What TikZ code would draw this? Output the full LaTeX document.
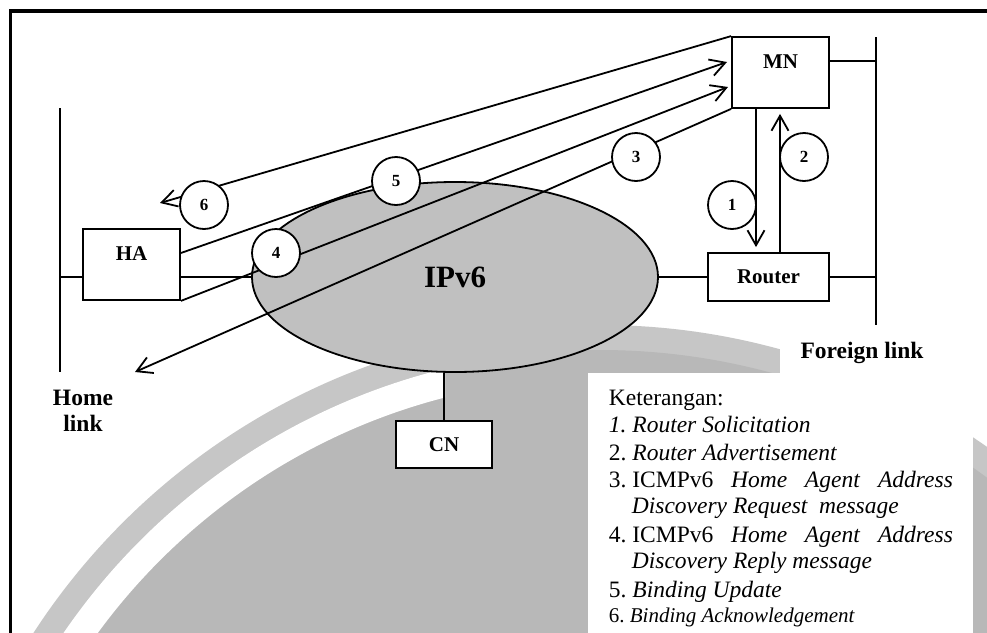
\documentclass[tikz,border=0pt]{standalone}
\usepackage{fontspec}
\setmainfont{Liberation Serif}
\usetikzlibrary{arrows.meta,shapes.geometric}
\definecolor{bandgray}{RGB}{198,198,198}
\definecolor{discgray}{RGB}{184,184,184}
\definecolor{ellgray}{RGB}{192,192,192}
\begin{document}
\frenchspacing
\begin{tikzpicture}[x=1pt,y=-1pt,line width=1.8pt,
  box/.style={draw,fill=white,line width=1.8pt,inner sep=0pt},
  num/.style={circle,draw,fill=white,minimum size=48pt,inner sep=0pt,line width=1.8pt,font=\fontsize{17}{17}\selectfont\bfseries},
  lbl/.style={inner sep=0pt,font=\fontsize{21}{21}\selectfont\bfseries},
  linklbl/.style={inner sep=0pt,align=center,font=\fontsize{23.5}{26}\selectfont\bfseries},
  msg/.style={-{Straight Barb[length=15pt,width=17pt,line width=1.8pt]}},
  leg/.style={anchor=base west,inner sep=0pt,font=\fontsize{23.5}{27}\selectfont}]
\useasboundingbox (0,0) rectangle (987,632);
% background and watermark disc
\fill[white] (0,0) rectangle (987,632);
\begin{scope}
  \clip (0,0) rectangle (987,632);
  \fill[bandgray] (600,1000) circle (675pt);
  \fill[discgray] (600,1000) circle (650pt);
  \begin{scope}
    \clip (0,0) rectangle (445,632);
    \fill[white,even odd rule] (600,1000) circle (650pt) (600,1000) circle (622pt);
  \end{scope}
\end{scope}
% white label panels
\fill[white] (11,372) rectangle (157,445);
\fill[white] (780,325) rectangle (949,373);
\fill[white] (588,373) rectangle (973,640);
% link lines
\coordinate (hlT) at (60,108);
\coordinate (hlB) at (60,372);
\coordinate (hlM) at (60,277);
\coordinate (flT) at (876,37);
\coordinate (flB) at (876,325);
\draw (hlT) -- (hlB);
\draw (flT) -- (flB);
% network cloud
\node[draw,ellipse,fill=ellgray,minimum width=406pt,minimum height=190pt,inner sep=0pt,line width=1.8pt,
      font=\fontsize{31}{31}\selectfont\bfseries] (net) at (455,277) {IPv6};
% boxes
\node[box,minimum width=97pt,minimum height=71pt] (MN) at (780.5,72.5) {};
\node[lbl] (MNt) at ([yshift=10.5pt]MN.center) {MN};
\node[box,minimum width=97pt,minimum height=71pt] (HA) at (131.5,264.5) {};
\node[lbl] (HAt) at ([yshift=10.5pt]HA.center) {HA};
\node[box,minimum width=121pt,minimum height=48pt,font=\fontsize{21}{21}\selectfont\bfseries] (Router) at (768.5,277) {Router};
\node[box,minimum width=96pt,minimum height=47pt,font=\fontsize{21}{21}\selectfont\bfseries] (CN) at (444,444.5) {CN};
% wiring
\draw (hlM) -- (hlM -| HA.west);
\draw (HA.east |- hlM) -- (net.west);
\draw (net.east) -- (Router.west);
\draw (Router.east) -- (Router.east -| flT);
\draw ([yshift=11.5pt]MN.east) -- ([yshift=11.5pt]MN.east -| flT);
\draw (CN.north) -- (CN.north |- net.south);
% message arrows
\coordinate (tip6) at (160,203);
\coordinate (tip5) at (727,62);
\coordinate (tip4) at (728,87);
\coordinate (tip3) at (135,372);
\draw[msg] (MN.north west) -- (tip6);
\draw[msg] ([yshift=11.5pt]HA.east) -- (tip5);
\draw[msg] (HA.south east) -- (tip4);
\draw[msg] (MN.south west) -- (tip3);
\draw[msg] ([xshift=-24.5pt]MN.south) -- ([xshift=-24.5pt,yshift=5pt]MN.south |- Router.north);
\draw[msg] ([xshift=-0.5pt]Router.north -| MN.south) -- ([xshift=-0.5pt,yshift=-5pt]MN.south);
% step numbers
\node[num] (c1) at (732,205) {1};
\node[num] (c2) at (804,157) {2};
\node[num] (c3) at (636,157) {3};
\node[num] (c4) at (276,253) {4};
\node[num] (c5) at (396,181) {5};
\node[num] (c6) at (204,205) {6};
% link labels
\node[linklbl] (homelbl) at (83,411) {Home\\link};
\node[linklbl] (forlbl) at (862,353) {Foreign link};
% legend
\node[leg] (l0) at (608,405) {Keterangan:};
\node[leg] (l1) at (608,432) {\textit{1. Router Solicitation}};
\node[leg] (l2) at (608,460) {2. \textit{Router Advertisement}};
\node[leg] (l3) at (608,487) {\makebox[344pt][l]{3.\ ICMPv6\hfill\textit{Home}\hfill\textit{Agent}\hfill\textit{Address}}};
\node[leg] (l4) at (631,513) {\textit{Discovery Request\ \ message}};
\node[leg] (l5) at (608,542) {\makebox[344pt][l]{4.\ ICMPv6\hfill\textit{Home}\hfill\textit{Agent}\hfill\textit{Address}}};
\node[leg] (l6) at (631,568) {\textit{Discovery Reply message}};
\node[leg] (l7) at (608,597) {5. \textit{Binding Update}};
\node[leg,font=\fontsize{21}{25}\selectfont] (l8) at (608,622) {6. \textit{Binding Acknowledgement}};
% frame
\draw[line width=3.5pt] (10.5,700) -- (10.5,11) -- (1000,11);
\end{tikzpicture}
\end{document}
